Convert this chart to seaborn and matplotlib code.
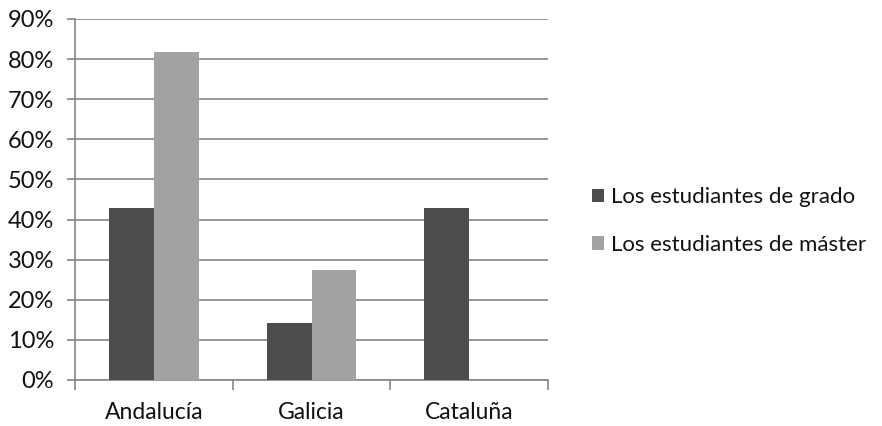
import numpy as np
import pandas as pd
import matplotlib
matplotlib.use("Agg")
import matplotlib.pyplot as plt
import seaborn as sns
from matplotlib.ticker import PercentFormatter

regiones = ["Andalucía", "Galicia", "Cataluña"]
grado = [0.429, 0.143, 0.429]
master = [0.818, 0.273, 0.0]
series = ["Los estudiantes de grado", "Los estudiantes de máster"]
colores = ["#4d4d4d", "#a3a3a3"]

df = pd.DataFrame({
    "region": regiones * 2,
    "valor": grado + master,
    "serie": [series[0]] * 3 + [series[1]] * 3,
})

sns.set_style("white")
plt.rcParams["font.family"] = ["Lato", "DejaVu Sans"]

fig = plt.figure(figsize=(8.82, 4.26), dpi=100)
ax = fig.add_axes([75 / 882, 1 - 380 / 426, 473 / 882, 361 / 426])

sns.barplot(data=df, x="region", y="valor", hue="serie", palette=colores,
            width=0.57, saturation=1, ax=ax, legend=True, zorder=3,
            linewidth=0)

ax.set_ylim(0, 0.9)
ax.set_xlim(-0.5, 2.5)
ax.set_yticks(np.arange(0, 0.91, 0.1))
ax.yaxis.set_major_formatter(PercentFormatter(1.0, decimals=0))
ax.yaxis.grid(True, color="#868686", linewidth=1.2, zorder=0)
ax.set_axisbelow(True)
ax.set_xlabel("")
ax.set_ylabel("")

for s in ["top", "right"]:
    ax.spines[s].set_visible(False)
for s in ["left", "bottom"]:
    ax.spines[s].set_color("#868686")
    ax.spines[s].set_linewidth(1.2)

ax.tick_params(axis="y", length=6, width=1.2, color="#868686",
               labelsize=17, labelcolor="#111111", pad=9, left=True)
ax.tick_params(axis="x", which="major", length=0, labelsize=16.5,
               labelcolor="#111111", pad=16)
ax.set_xticks([-0.5, 0.5, 1.5, 2.5], minor=True)
ax.tick_params(axis="x", which="minor", length=7, width=1.2,
               color="#868686", bottom=True)

ax.legend(loc="center left", bbox_to_anchor=(1.05, 0.44), frameon=False,
          fontsize=16, handlelength=0.55, handleheight=0.55, handletextpad=0.3,
          labelspacing=1.25, labelcolor="#111111")

fig.savefig("out.png", dpi=100)
